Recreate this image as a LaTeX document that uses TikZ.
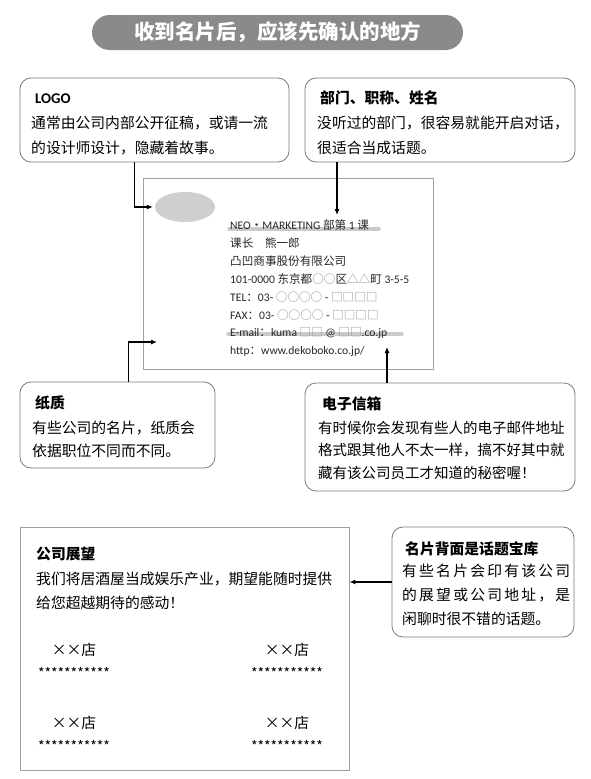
\documentclass[tikz,border=0pt]{standalone}
\usepackage{fontspec}
\setmainfont{Noto Sans CJK SC}
\newfontfamily\lat{Carlito}
\usetikzlibrary{arrows.meta,shapes.geometric}

\definecolor{titlegray}{HTML}{8A8A8A}
\definecolor{linegray}{HTML}{7A7A7A}
\definecolor{cardgray}{HTML}{A0A0A0}
\definecolor{logogray}{HTML}{CFCFCF}
\definecolor{markgray}{HTML}{BDBDBD}
\definecolor{symgray}{HTML}{8C8C8C}

\begin{document}
\begin{tikzpicture}[x=1pt,y=-1pt,
	callout/.style={draw=linegray, line width=0.8pt, rounded corners=11pt, inner sep=0pt},
	plainbox/.style={draw=cardgray, line width=0.9pt, inner sep=0pt},
	conn/.style={-{Latex[length=6pt,width=5pt]}, line width=1.1pt},
	head/.style={anchor=base west, inner sep=0pt, font=\fontsize{14.8}{18}\selectfont\bfseries},
	body/.style={anchor=base west, inner sep=0pt, align=left, font=\fontsize{14.8}{25}\selectfont},
	cardtext/.style={anchor=base west, inner sep=0pt, align=left, font=\fontsize{11.6}{17.9}\selectfont, text=black!85},
	marker/.style={line width=3.5pt, draw=markgray, line cap=round, opacity=0.8},
	shop/.style={anchor=base, inner sep=0pt, font=\fontsize{14.8}{18}\selectfont},
	stars/.style={anchor=base, inner sep=0pt, font=\fontsize{14}{18}\selectfont}]
		\fill[white] (0,0) rectangle (591,779);
		% title bar
		\node[fill=titlegray, rounded corners=17.5pt, minimum width=371pt, minimum height=35pt,
			text=white, font=\fontsize{20.5}{24}\selectfont\bfseries] (title) at (277.5,32.5) {收到名片后，应该先确认的地方};
		% the card (base of a text block = its last line)
		\node[plainbox, minimum width=290pt, minimum height=191pt] (card) at (288,273.5) {};
		\node[ellipse, fill=logogray, minimum width=60pt, minimum height=30pt, inner sep=0pt] (mark) at (185,207) {};
		\draw[marker] (229,229) -- (379,229);
		\draw[marker] (228,334) -- (402,334);
		\node[cardtext] (cardinfo) at (230,354.8) {{\lat NEO}・{\lat MARKETING} 部第 {\lat 1} 课\\
			课长\quad 熊一郎\\
			凸凹商事股份有限公司\\
			{\lat 101-0000} 东京都{\color{symgray}○○}区{\color{symgray}△△}町 {\lat 3-5-5}\\
			{\lat TEL}：{\lat 03-} {\color{symgray}○○○○} {\lat -} {\color{symgray}□□□□}\\
			{\lat FAX}：{\lat 03-} {\color{symgray}○○○○} {\lat -} {\color{symgray}□□□□}\\
			{\lat E-mail}：{\lat kuma} {\color{symgray}□□} {\lat @} {\color{symgray}□□}{\lat .co.jp}\\
			{\lat http}：{\lat www.dekoboko.co.jp/}};
		% callouts round the card
		\node[callout, minimum width=269pt, minimum height=84pt] (logo) at (154.5,120) {};
		\node[head] (logohead) at (35,103) {{\lat LOGO}};
		\node[body] (logobody) at (31,153.5) {通常由公司内部公开征稿，或请一流\\的设计师设计，隐藏着故事。};
		\node[callout, minimum width=270pt, minimum height=84pt] (dept) at (440,120) {};
		\node[head] (depthead) at (320,103) {部门、职称、姓名};
		\node[body] (deptbody) at (317,153.5) {没听过的部门，很容易就能开启对话，\\很适合当成话题。};
		\node[callout, minimum width=195pt, minimum height=86pt] (paper) at (117.5,425) {};
		\node[head] (paperhead) at (35,408) {纸质};
		\node[body, font=\fontsize{14.8}{23}\selectfont] (paperbody) at (32,456) {有些公司的名片，纸质会\\依据职位不同而不同。};
		\node[callout, minimum width=270pt, minimum height=108pt] (email) at (440,437) {};
		\node[head] (emailhead) at (322,409) {电子信箱};
		\node[body, font=\fontsize{14.5}{22.5}\selectfont] (emailbody) at (318,478) {有时候你会发现有些人的电子邮件地址\\格式跟其他人不太一样，搞不好其中就\\藏有该公司员工才知道的秘密喔！};
		\coordinate (deptpt) at (337,215);
		\coordinate (paperpt) at (157,342);
		\coordinate (mailpt) at (387,347);
		\draw[conn] ([xshift=-20pt]logo.south) |- ([xshift=-2pt]mark.west);
		\draw[conn] (dept.south -| deptpt) -- (deptpt);
		\draw[conn] ([xshift=11pt]paper.north) |- (paperpt);
		\draw[conn] (email.north -| mailpt) -- (mailpt);
		% back of the card
		\node[plainbox, minimum width=329pt, minimum height=243pt] (vision) at (184.5,648.5) {};
		\node[head] (visionhead) at (36,559) {公司展望};
		\node[body, font=\fontsize{14.8}{24.5}\selectfont] (visionbody) at (36,608.5) {我们将居酒屋当成娱乐产业，期望能随时提供\\给您超越期待的感动！};
		\foreach \px/\py [count=\k] in {74/650, 287/650, 74/723, 287/723} {
			\node[shop] (shop\k) at (\px,\py+5.6) {××店};
			\node[stars] (stars\k) at (\px,\py+28) {***********};
		}
		\node[callout, minimum width=182pt, minimum height=110pt] (back) at (483,582) {};
		\node[head] (backhead) at (405,554) {名片背面是话题宝库};
		\node[body, font=\fontsize{14.8}{24}\selectfont] (backbody) at (402,624) {{\addfontfeatures{LetterSpace=15}有些名片会印有该公司}\\{\addfontfeatures{LetterSpace=15}的展望或公司地址，是}\\闲聊时很不错的话题。};
		\draw[conn] (back.west) -- (back.west -| vision.east);
\end{tikzpicture}
\end{document}
